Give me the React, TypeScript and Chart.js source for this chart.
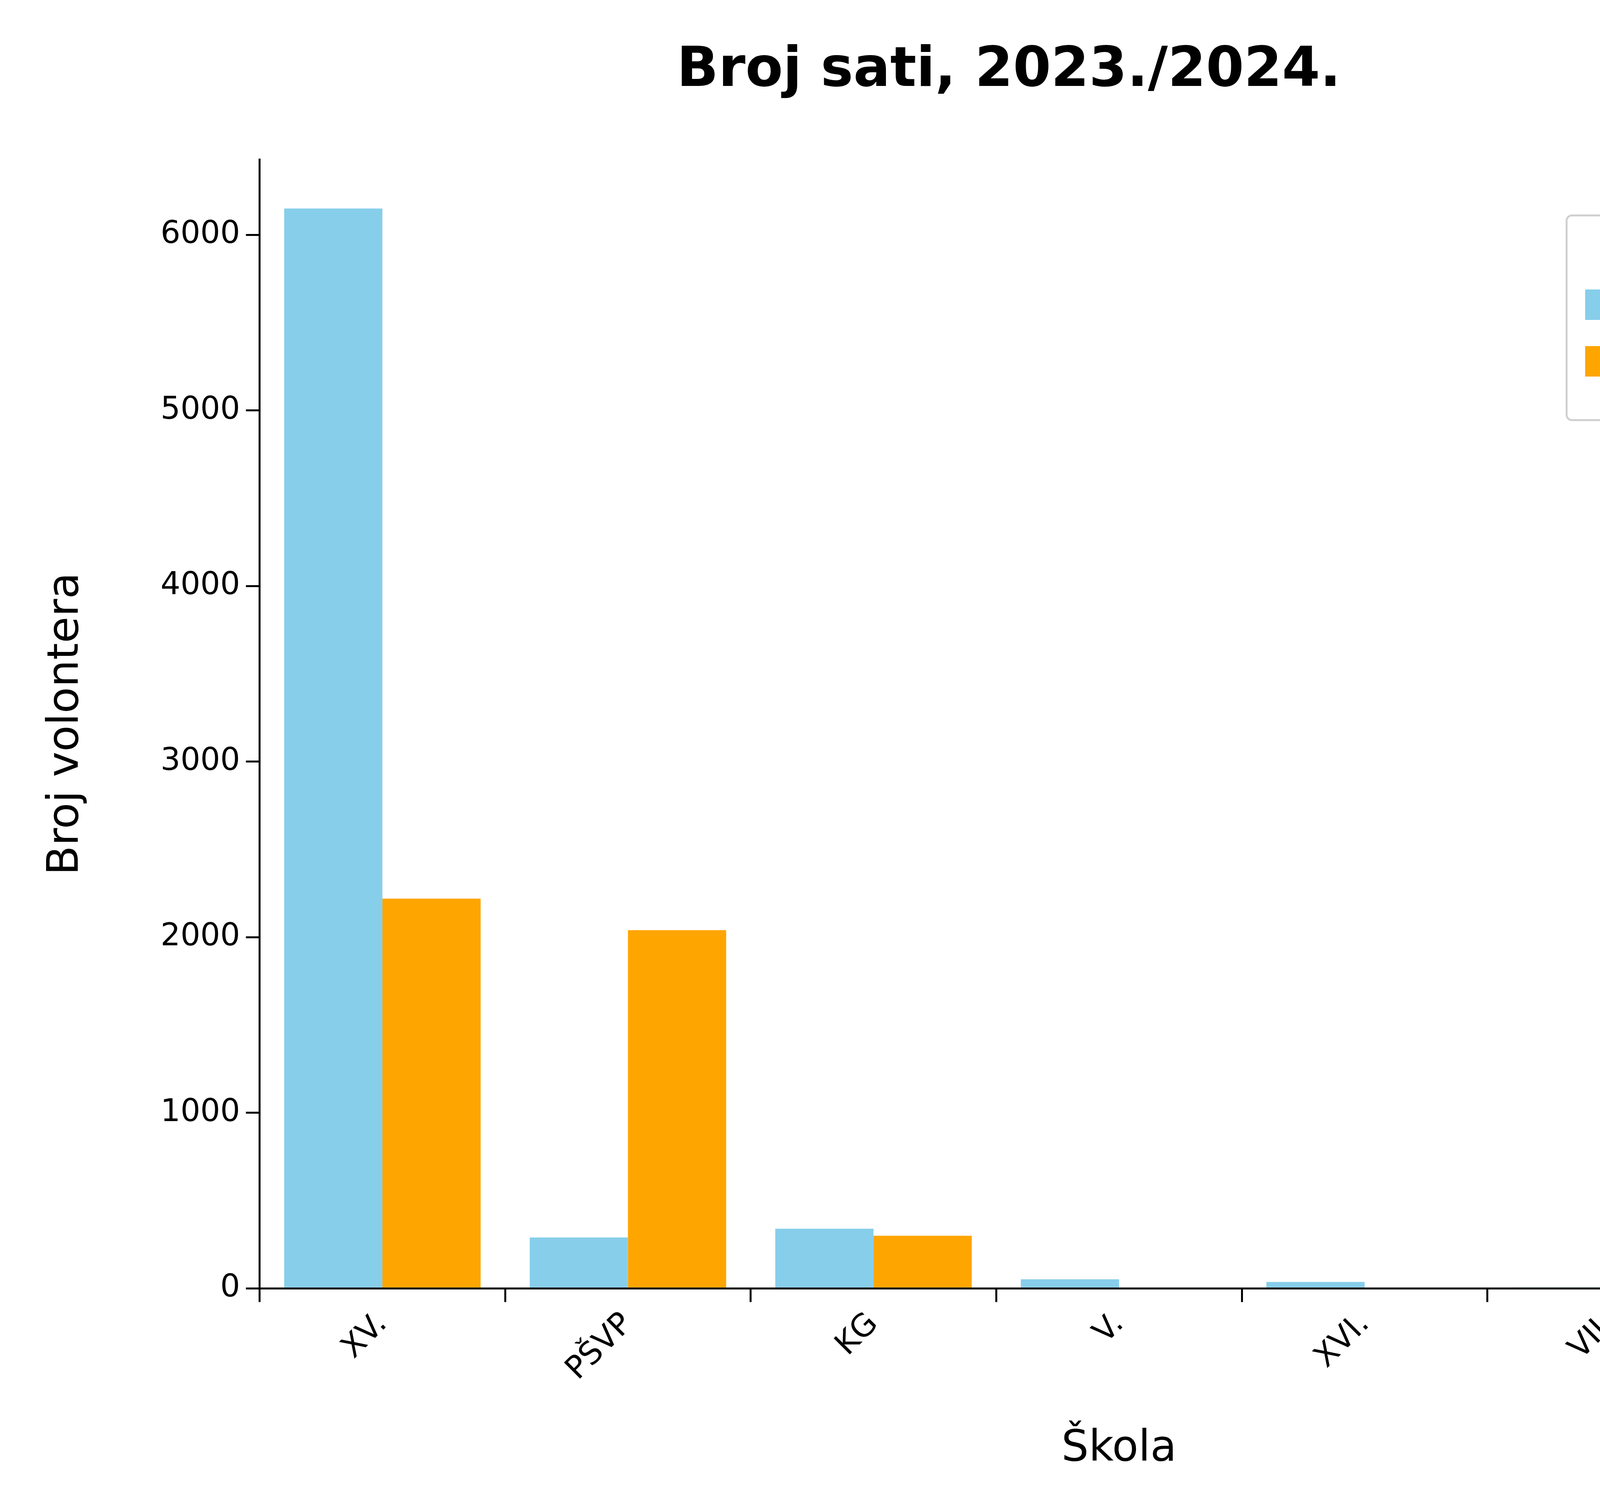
import { useRef, useEffect } from "react";
import { Chart, registerables } from "chart.js";

Chart.register(...registerables);

const categories = ["XV.", "PŠVP", "KG", "V.", "XVI.", "VII.", "F"];
const pescenica = [6150, 290, 340, 52, 37, 5, 0];
const tresnjevka = [2220, 2040, 300, 0, 0, 0, 0];
const seriesNames = ["Peščenica", "Trešnjevka"];
const seriesColors = ["#87CEEB", "#FFA500"];
const yTicks = [0, 1000, 2000, 3000, 4000, 5000, 6000];

const FONT = "'DejaVu Sans', sans-serif";

export default function App() {
  const canvasRef = useRef<HTMLCanvasElement>(null);
  const chartRef = useRef<Chart | null>(null);

  useEffect(() => {
    document.body.style.margin = "0";
    if (!canvasRef.current) return;
    chartRef.current?.destroy();

    chartRef.current = new Chart(canvasRef.current, {
      type: "bar",
      data: {
        labels: categories,
        datasets: [
          { label: seriesNames[0], data: pescenica, backgroundColor: seriesColors[0], borderWidth: 0 },
          { label: seriesNames[1], data: tresnjevka, backgroundColor: seriesColors[1], borderWidth: 0 },
        ],
      },
      options: {
        responsive: false,
        devicePixelRatio: 1,
        animation: false,
        layout: { padding: { left: 100, right: 55, top: 60, bottom: 60 } },
        plugins: {
          legend: { display: false },
          tooltip: { enabled: false },
          title: {
            display: true,
            text: "Broj sati, 2023./2024.",
            color: "#000",
            font: { family: FONT, size: 140, weight: "bold" },
            padding: { top: 40, bottom: 140 },
          },
        },
        datasets: { bar: { categoryPercentage: 0.8, barPercentage: 1 } },
        scales: {
          x: {
            grid: { drawOnChartArea: false, color: "#000", tickLength: 35, lineWidth: 5 },
            border: { color: "#000", width: 5 },
            ticks: { color: "#000", font: { family: FONT, size: 80 }, maxRotation: 45, minRotation: 45, padding: 10 },
            title: { display: true, text: "Škola", color: "#000", font: { family: FONT, size: 110 }, padding: { top: 80 } },
          },
          y: {
            min: 0,
            max: 6430,
            afterBuildTicks: (axis) => {
              axis.ticks = yTicks.map((v) => ({ value: v }));
            },
            grid: { drawOnChartArea: false, color: "#000", tickLength: 35, lineWidth: 5 },
            border: { color: "#000", width: 5 },
            ticks: { color: "#000", font: { family: FONT, size: 80 }, padding: 15, callback: (v) => String(v) },
            title: { display: true, text: "Broj volontera", color: "#000", font: { family: FONT, size: 110 }, padding: { bottom: 160 } },
          },
        },
      },
    });

    return () => {
      chartRef.current?.destroy();
    };
  }, []);

  return (
    <div style={{ position: "relative", width: 5120, height: 3840, background: "#fff" }}>
      <canvas ref={canvasRef} width={5120} height={3840} style={{ width: 5120, height: 3840, display: "block" }} />
      <div
        style={{
          position: "absolute", left: 4008, top: 549, width: 999, height: 529, boxSizing: "border-box",
          border: "5px solid #d0d0d0", borderRadius: 16, background: "rgba(255,255,255,0.8)",
          fontFamily: FONT, fontSize: 90, color: "#000",
        }}
      >
        <div style={{ textAlign: "center", marginTop: 28 }}>location</div>
        {seriesNames.map((n, i) => (
          <div key={n} style={{ display: "flex", alignItems: "center", marginTop: 40, marginLeft: 45 }}>
            <span style={{ display: "inline-block", width: 220, height: 78, background: seriesColors[i], marginRight: 90 }} />
            {n}
          </div>
        ))}
      </div>
    </div>
  );
}
